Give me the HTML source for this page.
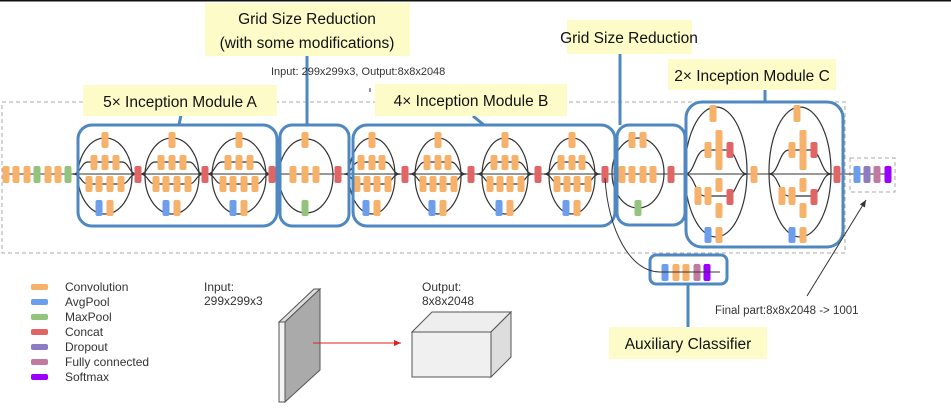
<!DOCTYPE html>
<html><head><meta charset="utf-8">
<style>
html,body{margin:0;padding:0;background:#fff;}
body{width:951px;height:409px;overflow:hidden;position:relative;font-family:"Liberation Sans",sans-serif;}
svg{position:absolute;left:0;top:0;}
</style></head>
<body>
<svg id="s" width="951" height="409" viewBox="0 0 951 409" xmlns="http://www.w3.org/2000/svg">
<defs>
<marker id="ar" markerWidth="8" markerHeight="8" refX="7" refY="4" orient="auto"><path d="M0,1 L7,4 L0,7 z" fill="#d22"/></marker>
<marker id="ak" markerWidth="8" markerHeight="8" refX="7" refY="4" orient="auto"><path d="M0,1 L7,4 L0,7 z" fill="#333"/></marker>
</defs>
<rect x="0" y="0" width="951" height="1.5" fill="#111"/>
<rect x="2" y="102" width="843" height="151" fill="none" stroke="#aaa" stroke-dasharray="4,3" stroke-width="1"/>
<rect x="850" y="158" width="45" height="34" fill="none" stroke="#aaa" stroke-dasharray="4,3" stroke-width="1"/>
<line x1="6" y1="174" x2="890" y2="174" stroke="#333" stroke-width="1"/>
<g id="lines" fill="none" stroke="#333" stroke-width="1.2"></g>
<g id="blocks"></g>
<g fill="none" stroke="#4f88c0" stroke-width="3">
<rect x="78" y="125" width="199" height="101" rx="14"/>
<rect x="280" y="125" width="69" height="101" rx="12"/>
<rect x="353" y="125" width="262" height="101" rx="14"/>
<rect x="617" y="125" width="68" height="100" rx="12"/>
<rect x="686" y="102" width="157" height="145" rx="16"/>
<rect x="650" y="255" width="77" height="29" rx="6"/>
<line x1="307" y1="55" x2="307" y2="125"/>
<line x1="620" y1="53" x2="620" y2="125"/>
<line x1="765" y1="90" x2="765" y2="102"/>
<line x1="688" y1="284" x2="688" y2="327"/>
<line x1="181" y1="115" x2="179" y2="125"/>
<line x1="473" y1="116" x2="484" y2="125"/>
</g>
<path d="M605,178 C608,230 630,272 660,272" fill="none" stroke="#333" stroke-width="1"/>
<line x1="660" y1="272" x2="720" y2="272" stroke="#333" stroke-width="1"/>
<line x1="807" y1="296" x2="866" y2="200" stroke="#333" stroke-width="1" marker-end="url(#ak)"/>
<g fill="#fdfcc9">
<rect x="83" y="85" width="194" height="31"/>
<rect x="205" y="3" width="205" height="53"/>
<rect x="567" y="20" width="125" height="34"/>
<rect x="668" y="59" width="168" height="31"/>
<rect x="375" y="84" width="192" height="32"/>
<rect x="609" y="327" width="158" height="32"/>
</g>
<g font-family="Liberation Sans, sans-serif" font-size="15.5" fill="#111" text-anchor="middle">
<text x="180" y="107">5× Inception Module A</text>
<text x="307" y="24">Grid Size Reduction</text>
<text x="307" y="48">(with some modifications)</text>
<text x="629" y="43">Grid Size Reduction</text>
<text x="752" y="81">2× Inception Module C</text>
<text x="471" y="106">4× Inception Module B</text>
<text x="688" y="349">Auxiliary Classifier</text>
</g>
<g font-family="Liberation Sans, sans-serif" fill="#333">
<text x="271" y="75" font-size="11">Input: 299x299x3, Output:8x8x2048</text>
<text x="715" y="314" font-size="11.5">Final part:8x8x2048 -&gt; 1001</text>
<text x="204" y="291" font-size="12">Input:</text>
<text x="204" y="305" font-size="12">299x299x3</text>
<text x="422" y="291" font-size="12">Output:</text>
<text x="422" y="305" font-size="12">8x8x2048</text>
</g>
<line x1="370" y1="88" x2="370" y2="92" stroke="#333"/>
<g font-family="Liberation Sans, sans-serif" font-size="12" fill="#333">
<rect x="31" y="284" width="17" height="6" rx="2" fill="#f6b26b"/><text x="65" y="291">Convolution</text>
<rect x="31" y="299" width="17" height="6" rx="2" fill="#6d9eeb"/><text x="65" y="306">AvgPool</text>
<rect x="31" y="314" width="17" height="6" rx="2" fill="#93c47d"/><text x="65" y="321">MaxPool</text>
<rect x="31" y="329" width="17" height="6" rx="2" fill="#e06666"/><text x="65" y="336">Concat</text>
<rect x="31" y="344" width="17" height="6" rx="2" fill="#8e7cc3"/><text x="65" y="351">Dropout</text>
<rect x="31" y="359" width="17" height="6" rx="2" fill="#c27ba0"/><text x="65" y="366">Fully connected</text>
<rect x="31" y="374" width="17" height="6" rx="2" fill="#9900ff"/><text x="65" y="381">Softmax</text>
</g>
<g stroke="#555" stroke-width="1">
<polygon points="279,322 285,322 320,289 314,289" fill="#ddd"/>
<polygon points="285,322 320,289 320,370 285,402" fill="#aaa"/>
<rect x="279" y="322" width="6" height="80" fill="#f4f4f4"/>
</g>
<line x1="313" y1="343" x2="401" y2="343" stroke="#d22" stroke-width="1" marker-end="url(#ar)"/>
<g stroke="#555" stroke-width="1" fill="#eee">
<polygon points="412,332 432,312 511,312 491,332"/>
<polygon points="491,332 511,312 511,357 491,377" fill="#ddd"/>
<rect x="412" y="332" width="79" height="45" fill="#f0f0f0"/>
</g>
</svg>
<script>
var NS="http://www.w3.org/2000/svg";
var B=document.getElementById("blocks"),L=document.getElementById("lines");
var C={o:"#f6b26b",b:"#6d9eeb",g:"#93c47d",r:"#e06666",p:"#8e7cc3",m:"#c27ba0",v:"#9900ff"};
function blk(cx,y1,y2,c){var r=document.createElementNS(NS,"rect");r.setAttribute("x",cx-3.5);r.setAttribute("y",y1);r.setAttribute("width",7);r.setAttribute("height",y2-y1);r.setAttribute("rx",2);r.setAttribute("fill",C[c]);B.appendChild(r);}
function el(cx,cy,rx,ry){var e=document.createElementNS(NS,"ellipse");e.setAttribute("cx",cx);e.setAttribute("cy",cy);e.setAttribute("rx",rx);e.setAttribute("ry",ry);L.appendChild(e);}
function pth(d){var p=document.createElementNS(NS,"path");p.setAttribute("d",d);L.appendChild(p);}
function row(c,w,y){pth("M"+(c-w-5)+",174 C"+(c-w+3)+",174 "+(c-w+3)+","+y+" "+(c-w+10)+","+y+" L"+(c+w-10)+","+y+" C"+(c+w-3)+","+y+" "+(c+w-3)+",174 "+(c+w+5)+",174");}
[[6,"o"],[16,"o"],[27,"o"],[37,"g"],[48,"o"],[58,"o"],[68,"g"]].forEach(function(a){blk(a[0],166,183,a[1]);});
function incep(c,w,o2,o3){
 el(c,176,w,38);row(c,w,162);row(c,w,184);
 blk(c,132,148,"o");
 o2.forEach(function(d){blk(c+d,155,170,"o");});
 o3.forEach(function(d){blk(c+d,176,192,"o");});
 blk(c-6,200,216,"b");blk(c+5,200,216,"o");
}
[105,172,239].forEach(function(c){incep(c,27,[-11,0,11],[-16,-6,5,16]);blk(c+33,166,183,"r");});
el(306,176,27,37);blk(305,132,148,"o");[293,305,316].forEach(function(x){blk(x,166,183,"o");});blk(305,200,216,"g");blk(338,166,183,"r");
[372,438,505,572].forEach(function(c){incep(c,23,[-11,0,10],[-15,-5,5,16]);blk(c+33,166,183,"r");});
el(638,173,26,35);blk(632,132,148,"o");blk(643,132,148,"o");[622,632,643,653].forEach(function(x){blk(x,166,183,"o");});blk(638,200,216,"g");blk(671,166,183,"r");
function modc(c){
 el(c+3,172,31,65);
 pth("M"+(c-28)+",174 C"+(c-18)+",174 "+(c-18)+",150 "+(c-8)+",150 L"+(c+14)+",150 C"+(c+24)+",150 "+(c+24)+",174 "+(c+34)+",174");
 pth("M"+(c-28)+",174 C"+(c-18)+",174 "+(c-18)+",196 "+(c-8)+",196 L"+(c+14)+",196 C"+(c+24)+",196 "+(c+24)+",174 "+(c+34)+",174");
 blk(c,105,122,"o");
 blk(c+6,130,145,"o");blk(c-5,142,158,"o");blk(c+6,142,158,"o");blk(c+17,142,158,"r");blk(c+6,155,170,"o");
 blk(c+6,178,192,"o");blk(c-15,187,205,"o");blk(c-5,187,205,"o");blk(c+17,189,205,"r");blk(c+6,203,218,"o");
 blk(c-5,227,243,"b");blk(c+6,227,243,"o");
}
modc(713);blk(754,166,183,"o");modc(797);blk(837,166,183,"r");
[[857,"b"],[867,"p"],[877,"m"],[888,"v"]].forEach(function(a){blk(a[0],166,183,a[1]);});
[[665,"b"],[676,"o"],[686,"o"],[697,"m"],[707,"v"]].forEach(function(a){blk(a[0],264,281,a[1]);});
</script>
</body></html>
